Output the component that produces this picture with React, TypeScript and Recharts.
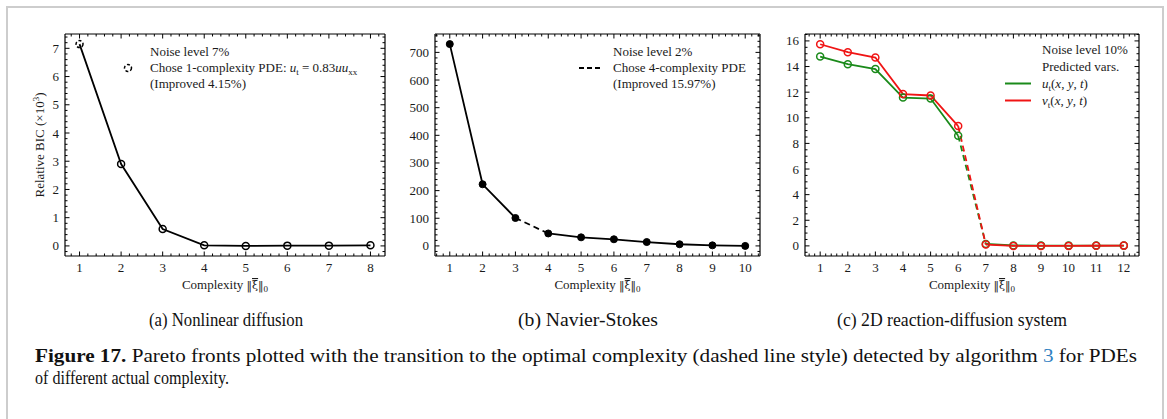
import React from 'react';
import { LineChart, Line, XAxis, YAxis, Legend } from 'recharts';

const SERIF = '"Liberation Serif", "DejaVu Serif", serif';
const INK = '#1a1a1a';
const GREEN = '#1a8a1a';
const RED = '#f01414';

// (a) Nonlinear diffusion, noise 7%
const complexityA = [1, 2, 3, 4, 5, 6, 7, 8];
const bicA = [7.15, 2.9, 0.6, 0.02, 0.0, 0.01, 0.01, 0.02];
const chosenA = 1;
const xTicksA = [1, 2, 3, 4, 5, 6, 7, 8];
const yTicksA = [0, 1, 2, 3, 4, 5, 6, 7];

// (b) Navier-Stokes, noise 2%
const complexityB = [1, 2, 3, 4, 5, 6, 7, 8, 9, 10];
const bicB = [730, 223, 101, 45, 31, 24, 14, 6, 2, 0];
const chosenB = 4;
const xTicksB = [1, 2, 3, 4, 5, 6, 7, 8, 9, 10];
const yTicksB = [0, 100, 200, 300, 400, 500, 600, 700];

// (c) 2D reaction-diffusion system, noise 10%
const complexityC = [1, 2, 3, 4, 5, 6, 7, 8, 9, 10, 11, 12];
const bicU = [14.78, 14.18, 13.8, 11.58, 11.5, 8.6, 0.15, 0.03, 0.02, 0.02, 0.02, 0.02];
const bicV = [15.74, 15.12, 14.7, 11.85, 11.74, 9.35, 0.1, 0.0, 0.0, 0.0, 0.01, 0.02];
const chosenC = 7;
const xTicksC = [1, 2, 3, 4, 5, 6, 7, 8, 9, 10, 11, 12];
const yTicksC = [0, 2, 4, 6, 8, 10, 12, 14, 16];

const subCaptions = ['(a) Nonlinear diffusion', '(b) Navier-Stokes', '(c) 2D reaction-diffusion system'];

// split a pareto front into solid part / dashed transition / solid part
const split = (xs: number[], ys: number[], chosen: number, p: string) =>
  xs.map((x, i) => ({
    x,
    [p + 'pre']: x <= chosen - 1 ? ys[i] : null,
    [p + 'dash']: x === chosen - 1 || x === chosen ? ys[i] : null,
    [p + 'post']: x >= chosen ? ys[i] : null,
  }));

const dataA = split(complexityA, bicA, chosenA, '');
const dataB = split(complexityB, bicB, chosenB, '');
const dataC = complexityC.map((x, i) => ({
  ...split(complexityC, bicU, chosenC, 'u')[i],
  ...split(complexityC, bicV, chosenC, 'v')[i],
}));

const minorTicks = (lo: number, hi: number, step: number) => {
  const out: number[] = [];
  for (let k = Math.ceil(lo / step - 1e-9); k * step <= hi + 1e-9; k++) out.push(+(k * step).toFixed(6));
  return out;
};

const Tick = (props: any) => {
  const { x, y, payload, side, majors } = props;
  const v = payload.value;
  const major = majors.find((m: number) => Math.abs(m - v) < 1e-6);
  const isMajor = major !== undefined;
  const len = isMajor ? 4.5 : 2.5;
  const txt = { fontFamily: SERIF, fontSize: 13, fill: INK };
  let l = [x, y, x, y];
  let label = null;
  if (side === 'bottom') {
    l = [x, y, x, y - len];
    if (isMajor) label = <text x={x} y={y + 16} textAnchor="middle" {...txt}>{major}</text>;
  } else if (side === 'top') {
    l = [x, y, x, y + len];
  } else if (side === 'left') {
    l = [x, y, x + len, y];
    if (isMajor) label = <text x={x - 6} y={y + 4.5} textAnchor="end" {...txt}>{major}</text>;
  } else {
    l = [x, y, x - len, y];
  }
  return (
    <g>
      <line x1={l[0]} y1={l[1]} x2={l[2]} y2={l[3]} stroke="#000" strokeWidth={1} />
      {label}
    </g>
  );
};

const XLabel = (props: any) => {
  const { viewBox } = props;
  const cx = viewBox.x + viewBox.width / 2;
  return (
    <text x={cx} y={viewBox.y + 33} textAnchor="middle" fontFamily={SERIF} fontSize={13} fill={INK}>
      Complexity <tspan fontFamily="DejaVu Serif" fontSize={11}>‖</tspan>
      <tspan fontFamily="DejaVu Serif" fontSize={11} style={{ textDecoration: 'overline' }}>ξ</tspan>
      <tspan fontFamily="DejaVu Serif" fontSize={11}>‖</tspan>
      <tspan dy={3} fontSize={9}>0</tspan>
    </text>
  );
};

const YLabel = () => (
  <text x={44} y={145} transform="rotate(-90, 44, 145)" textAnchor="middle" fontFamily={SERIF} fontSize={13} fill={INK}>
    Relative BIC (×10<tspan dy={-5} fontSize={9}>3</tspan><tspan dy={5} fontSize={13}>)</tspan>
  </text>
);

// bottom axis 30 tall, left axis 30 wide, top/right axes 1px
const frame = (xd: number[], yd: number[], xMaj: number[], yMaj: number[], xs: number, ys: number, withYLabel: boolean) => {
  const xt = minorTicks(xd[0], xd[1], xs);
  const yt = minorTicks(yd[0], yd[1], ys);
  const axisLine = { stroke: '#000', strokeWidth: 1.2 };
  return [
    <XAxis key="xb" type="number" dataKey="x" domain={xd} allowDataOverflow ticks={xt} interval={0}
      height={30} tickSize={0} tickMargin={0} tickLine={false} axisLine={axisLine}
      tick={<Tick side="bottom" majors={xMaj} />} label={<XLabel />} />,
    <XAxis key="xt" xAxisId="top" orientation="top" type="number" dataKey="x" domain={xd} allowDataOverflow ticks={xt} interval={0}
      height={1} tickSize={0} tickMargin={0} tickLine={false} axisLine={axisLine}
      tick={<Tick side="top" majors={xMaj} />} />,
    <YAxis key="yl" type="number" domain={yd} allowDataOverflow ticks={yt} interval={0}
      width={30} tickSize={0} tickMargin={0} tickLine={false} axisLine={axisLine}
      tick={<Tick side="left" majors={yMaj} />} label={withYLabel ? <YLabel /> : undefined} />,
    <YAxis key="yr" yAxisId="right" orientation="right" type="number" domain={yd} allowDataOverflow ticks={yt} interval={0}
      width={1} tickSize={0} tickMargin={0} tickLine={false} axisLine={axisLine}
      tick={<Tick side="right" majors={yMaj} />} />,
  ];
};

const legendText: React.CSSProperties = {
  fontFamily: SERIF, fontSize: 13, lineHeight: '16px', color: INK, whiteSpace: 'nowrap',
};
const subStyle: React.CSSProperties = { fontSize: 9, verticalAlign: '-0.3em', lineHeight: 0 };

const LegendA = () => (
  <div style={legendText}>
    <div style={{ paddingLeft: 30 }}>Noise level 7%</div>
    <div style={{ display: 'flex', alignItems: 'center' }}>
      <svg width={30} height={16}>
        <circle cx={8} cy={8} r={3.5} fill="none" stroke="#000" strokeWidth={1.5} strokeDasharray="3 2" />
      </svg>
      <span>Chose 1-complexity PDE: <i>u</i><sub style={subStyle}>t</sub> = 0.83<i>uu</i><sub style={subStyle}>xx</sub></span>
    </div>
    <div style={{ paddingLeft: 30 }}>(Improved 4.15%)</div>
  </div>
);

const LegendB = () => (
  <div style={legendText}>
    <div style={{ paddingLeft: 36 }}>Noise level 2%</div>
    <div style={{ display: 'flex', alignItems: 'center' }}>
      <svg width={36} height={16}>
        <line x1={2} y1={8} x2={26} y2={8} stroke="#000" strokeWidth={2} strokeDasharray="5 3" />
      </svg>
      <span>Chose 4-complexity PDE</span>
    </div>
    <div style={{ paddingLeft: 36 }}>(Improved 15.97%)</div>
  </div>
);

const LegendC = () => (
  <div style={{ ...legendText, lineHeight: '17px' }}>
    <div style={{ paddingLeft: 37 }}>Noise level 10%</div>
    <div style={{ paddingLeft: 37 }}>Predicted vars.</div>
    <div style={{ display: 'flex', alignItems: 'center' }}>
      <svg width={37} height={17}><line x1={0} y1={8.5} x2={26} y2={8.5} stroke={GREEN} strokeWidth={2} /></svg>
      <span><i>u</i><sub style={subStyle}>t</sub>(<i>x</i>, <i>y</i>, <i>t</i>)</span>
    </div>
    <div style={{ display: 'flex', alignItems: 'center' }}>
      <svg width={37} height={17}><line x1={0} y1={8.5} x2={26} y2={8.5} stroke={RED} strokeWidth={2} /></svg>
      <span><i>v</i><sub style={subStyle}>t</sub>(<i>x</i>, <i>y</i>, <i>t</i>)</span>
    </div>
  </div>
);

const openDot = (color: string, dashedAt?: number) => (p: any) => {
  if (p.cy == null || p.value == null) return <g key={p.key} />;
  return (
    <circle key={p.key} cx={p.cx} cy={p.cy} r={3.5} fill="none" stroke={color} strokeWidth={1.5}
      strokeDasharray={dashedAt !== undefined && p.payload.x === dashedAt ? '3 2' : undefined} />
  );
};

const H = 300;
const capFont = { fontFamily: SERIF, fontSize: 18, fill: '#111' };

export default function App() {
  return (
    <div style={{ position: 'absolute', left: 0, top: 0, width: 1167, height: 419, background: '#fff', overflow: 'hidden' }}>
      <div style={{ position: 'absolute', left: 6, top: 6, width: 1154, height: 430, borderTop: '2px solid #cdcdcd', borderLeft: '2px solid #cdcdcd', borderRight: '2px solid #cdcdcd' }} />

      <div style={{ position: 'absolute', left: 0, top: 0 }}>
        <LineChart width={400} height={H} data={dataA} margin={{ top: 33, left: 35, right: 14, bottom: 14 }}>
          {frame([0.65, 8.35], [-0.3575, 7.5075], xTicksA, yTicksA, 0.2, 0.2, true)}
          <Line dataKey="post" stroke="#000" strokeWidth={1.8} dot={openDot('#000', chosenA)} isAnimationActive={false} />
          <Line dataKey="pre" stroke="#000" strokeWidth={1.8} dot={openDot('#000')} isAnimationActive={false} />
          <Legend layout="vertical" align="center" verticalAlign="middle" wrapperStyle={{ top: 44, left: 120, width: 'auto' }} content={<LegendA />} />
        </LineChart>
      </div>

      <div style={{ position: 'absolute', left: 400, top: 0 }}>
        <LineChart width={380} height={H} data={dataB} margin={{ top: 33, left: 5, right: 19, bottom: 14 }}>
          {frame([0.55, 10.45], [-36.5, 766.5], xTicksB, yTicksB, 0.2, 20, false)}
          <Line dataKey="pre" stroke="#000" strokeWidth={1.8} dot={{ r: 3.5, fill: '#000', stroke: '#000', strokeWidth: 1 }} isAnimationActive={false} />
          <Line dataKey="dash" stroke="#000" strokeWidth={1.8} strokeDasharray="6 4" dot={false} isAnimationActive={false} />
          <Line dataKey="post" stroke="#000" strokeWidth={1.8} dot={{ r: 3.5, fill: '#000', stroke: '#000', strokeWidth: 1 }} isAnimationActive={false} />
          <Legend layout="vertical" align="center" verticalAlign="middle" wrapperStyle={{ top: 44, left: 177, width: 'auto' }} content={<LegendB />} />
        </LineChart>
      </div>

      <div style={{ position: 'absolute', left: 780, top: 0 }}>
        <LineChart width={387} height={H} data={dataC} margin={{ top: 33, left: -5, right: 27, bottom: 14 }}>
          {frame([0.45, 12.55], [-0.79, 16.54], xTicksC, yTicksC, 0.2, 0.5, false)}
          <Line dataKey="upre" stroke={GREEN} strokeWidth={1.8} dot={openDot(GREEN)} isAnimationActive={false} />
          <Line dataKey="udash" stroke={GREEN} strokeWidth={1.8} strokeDasharray="6 4" dot={false} isAnimationActive={false} />
          <Line dataKey="upost" stroke={GREEN} strokeWidth={1.8} dot={openDot(GREEN)} isAnimationActive={false} />
          <Line dataKey="vpre" stroke={RED} strokeWidth={1.8} dot={openDot(RED)} isAnimationActive={false} />
          <Line dataKey="vdash" stroke={RED} strokeWidth={1.8} strokeDasharray="6 4" dot={false} isAnimationActive={false} />
          <Line dataKey="vpost" stroke={RED} strokeWidth={1.8} dot={openDot(RED)} isAnimationActive={false} />
          <Legend layout="vertical" align="center" verticalAlign="middle" wrapperStyle={{ top: 41, left: 225, width: 'auto' }} content={<LegendC />} />
        </LineChart>
      </div>

      <svg width={1167} height={130} style={{ position: 'absolute', left: 0, top: 290 }}>
        <text x={149} y={36} textLength={154} lengthAdjust="spacingAndGlyphs" {...capFont}>{subCaptions[0]}</text>
        <text x={518} y={36} textLength={140} lengthAdjust="spacingAndGlyphs" {...capFont}>{subCaptions[1]}</text>
        <text x={837} y={36} textLength={230} lengthAdjust="spacingAndGlyphs" {...capFont}>{subCaptions[2]}</text>
        <text x={35} y={72} textLength={1102} lengthAdjust="spacingAndGlyphs" {...capFont}>
          <tspan fontWeight="bold" fontSize={18}>Figure 17.</tspan> Pareto fronts plotted with the transition to the optimal complexity (dashed line style) detected by algorithm <tspan fill="#2f7fc1" fontSize={18}>3</tspan> for PDEs
        </text>
        <text x={35} y={94} textLength={194} lengthAdjust="spacingAndGlyphs" {...capFont}>of different actual complexity.</text>
      </svg>
    </div>
  );
}
